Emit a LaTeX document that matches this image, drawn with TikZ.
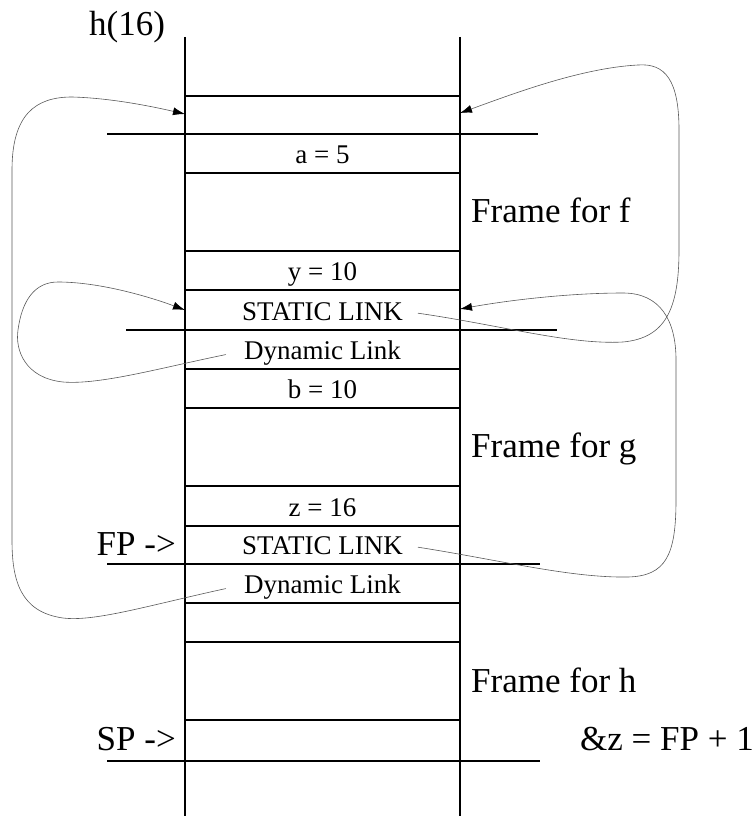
\documentclass[tikz,border=0pt]{standalone}
\usepackage{fontspec}
\setmainfont{Liberation Serif}
\usetikzlibrary{arrows.meta}

\tikzset{
  cell/.style={inner sep=0pt, anchor=base, font=\fontsize{27}{30}\selectfont},
  lbl/.style={inner sep=0pt, font=\fontsize{35}{40}\selectfont},
  link/.style={draw=black!65, line width=0.6pt, -{Latex[length=12pt,width=8pt,color=black]}},
  wall/.style={line width=1.1pt}
}

\begin{document}
\begin{tikzpicture}[x=1pt,y=-1pt]
  \useasboundingbox (0,0) rectangle (754,816);

  % stack walls
  \draw[wall] (185,37) -- (185,816);
  \draw[wall] (460,37) -- (460,816);

  % cell boundaries
  \foreach \y in {96,173,251,290,369,408,486,526,603,642,720}
    \draw[wall] (185,\y) -- (460,\y);
  % frame boundaries
  \draw[wall] (107,134) -- (538,134);
  \draw[wall] (126,330) -- (557,330);
  \draw[wall] (107,564) -- (540,564);
  \draw[wall] (107,761) -- (540,761);

  % cell contents
  \node[cell] (a5)  at (322.5,163) {a = 5};
  \node[cell] (y10) at (322.5,280) {y = 10};
  \node[cell] (sl1) at (322.5,320) {STATIC LINK};
  \node[cell] (dl1) at (322.5,359) {Dynamic Link};
  \node[cell] (b10) at (322.5,398) {b = 10};
  \node[cell] (z16) at (322.5,516) {z = 16};
  \node[cell] (sl2) at (322.5,554) {STATIC LINK};
  \node[cell] (dl2) at (322.5,593) {Dynamic Link};

  % labels
  \node[lbl, anchor=base west] (call) at (89,36) {h(16)};
  \node[lbl, anchor=base west] (frf) at (471,222) {Frame for f};
  \node[lbl, anchor=base west] (frg) at (471,457) {Frame for g};
  \node[lbl, anchor=base west] (frh) at (471,692) {Frame for h};
  \node[lbl, anchor=base east] (fp) at (176,555) {FP -\textgreater};
  \node[lbl, anchor=base east] (sp) at (176,750) {SP -\textgreater};
  \node[lbl, anchor=base west] (addr) at (580,750) {\&z = FP + 1};

  % link targets on the walls
  \coordinate (ftopL) at (185,114);
  \coordinate (ftopR) at (460,113);
  \coordinate (fslL) at (185,310);
  \coordinate (fslR) at (460,309);

  % dynamic links
  \draw[link] ([xshift=-18pt,yshift=-2pt]dl1.west) .. controls (160,368) and (100,385) .. (63,382)
    .. controls (25,378) and (15,350) .. (18,330)
    .. controls (22,300) and (35,282) .. (58,282)
    .. controls (100,282) and (150,297) .. (fslL);
  \draw[link] ([xshift=-18pt,yshift=-2pt]dl2.west) .. controls (150,605) and (95,622) .. (63,618)
    .. controls (20,612) and (12,580) .. (12,540) -- (12,170)
    .. controls (12,115) and (35,97) .. (72,97)
    .. controls (110,98) and (150,106) .. (ftopL);

  % static links
  \draw[link] ([xshift=15pt,yshift=-2pt]sl1.east) .. controls (500,325) and (570,345) .. (623,342)
    .. controls (665,338) and (679,310) .. (679,250) -- (679,130)
    .. controls (679,80) and (665,63) .. (638,65)
    .. controls (580,68) and (510,95) .. (ftopR);
  \draw[link] ([xshift=15pt,yshift=-2pt]sl2.east) .. controls (500,560) and (570,578) .. (628,577)
    .. controls (666,576) and (676,555) .. (676,500) -- (676,360)
    .. controls (676,320) and (660,293) .. (623,293)
    .. controls (570,293) and (510,300) .. (fslR);
\end{tikzpicture}
\end{document}
